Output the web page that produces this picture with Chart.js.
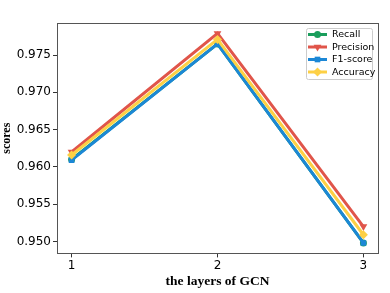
<!DOCTYPE html>
<html><head><meta charset="utf-8">
<script src="https://cdn.jsdelivr.net/npm/chart.js@4.4.0/dist/chart.umd.min.js"></script>
<style>html,body{margin:0;padding:0;background:#fff}#w{width:390px;height:293px}</style>
</head><body><div id="w"><canvas id="c"></canvas></div>
<script>
const layers = [1, 2, 3];
const recall = [0.9610, 0.9765, 0.9498];
const precision = [0.9620, 0.9779, 0.9520];
const f1score = [0.9609, 0.9765, 0.9498];
const accuracy = [0.9616, 0.9771, 0.9509];
const yTicks = [0.950, 0.955, 0.960, 0.965, 0.970, 0.975];
const seriesNames = ['Recall', 'Precision', 'F1-score', 'Accuracy'];
const xTitle = 'the layers of GCN';
const yTitle = 'scores';

const colors = ['#1a9e5c', '#e0554a', '#1c87d6', '#fdd045'];
const styles = ['circle', 'triangle', 'rect', 'rectRot'];
const rots = [0, 180, 0, 0];
const radii = [3.5, 4.5, 4, 4.5];
const vals = [recall, precision, f1score, accuracy];

const datasets = seriesNames.map((n, i) => ({
  label: n,
  data: layers.map((x, j) => ({x: x, y: vals[i][j]})),
  borderColor: colors[i], backgroundColor: colors[i],
  borderWidth: 3, pointStyle: styles[i], pointRotation: rots[i],
  pointRadius: radii[i], pointBorderWidth: 0, tension: 0,
  order: 3 - i
}));

const frame = {
  id: 'frame',
  afterDatasetsDraw(chart) {
    const {ctx, chartArea: a} = chart;
    ctx.save();
    ctx.strokeStyle = '#555'; ctx.lineWidth = 1;
    ctx.strokeRect(Math.round(a.left) + 0.5, Math.round(a.top) + 0.5, Math.round(a.right - a.left), Math.round(a.bottom - a.top));
    // legend
    const lx = 306, ly = 28, lw = 66, lh = 51;
    ctx.fillStyle = 'rgba(255,255,255,0.9)';
    ctx.strokeStyle = '#ccc';
    ctx.beginPath();
    ctx.roundRect(lx + 0.5, ly + 0.5, lw, lh, 2);
    ctx.fill(); ctx.stroke();
    ctx.font = '9.5px "DejaVu Sans"';
    ctx.textBaseline = 'middle';
    chart.data.datasets.forEach((d, i) => {
      const y = ly + 6.5 + i * 12.5;
      ctx.strokeStyle = d.borderColor; ctx.fillStyle = d.backgroundColor; ctx.lineWidth = 3;
      ctx.beginPath(); ctx.moveTo(lx + 2, y); ctx.lineTo(lx + 21, y); ctx.stroke();
      Chart.helpers.drawPoint(ctx, {pointStyle: d.pointStyle, rotation: d.pointRotation, radius: d.pointRadius, borderWidth: 0}, lx + 11.5, y);
      ctx.fillStyle = '#000';
      ctx.fillText(d.label, lx + 26, y + 0.5);
    });
    ctx.restore();
  }
};

new Chart(document.getElementById('c'), {
  type: 'line',
  data: {datasets},
  options: {
    responsive: true, maintainAspectRatio: false, animation: false,
    layout: {padding: {left: 0, right: 12, top: 23, bottom: 0}},
    plugins: {legend: {display: false}, tooltip: {enabled: false}},
    scales: {
      x: {
        type: 'linear', min: 0.9, max: 3.1,
        afterBuildTicks: s => { s.ticks = layers.map(v => ({value: v})); },
        grid: {drawOnChartArea: false, tickLength: 4, color: '#333'},
        border: {display: false},
        ticks: {color: '#000', font: {family: 'DejaVu Sans', size: 12}, padding: 1},
        title: {display: true, text: xTitle, color: '#000', font: {family: 'Liberation Serif', size: 13.5, weight: 'bold'}, padding: {top: 0, bottom: 3}}
      },
      y: {
        min: 0.9484, max: 0.9793,
        afterBuildTicks: s => { s.ticks = yTicks.map(v => ({value: v})); },
        afterFit: s => { s.width = 57; },
        grid: {drawOnChartArea: false, tickLength: 4, color: '#333'},
        border: {display: false},
        ticks: {color: '#000', font: {family: 'DejaVu Sans', size: 12}, padding: 2, callback: v => v.toFixed(3)},
        title: {display: true, text: yTitle, color: '#000', font: {family: 'Liberation Serif', size: 12, weight: 'bold'}, padding: {top: 0, bottom: 0}}
      }
    }
  },
  plugins: [frame]
});
</script>
</body></html>
